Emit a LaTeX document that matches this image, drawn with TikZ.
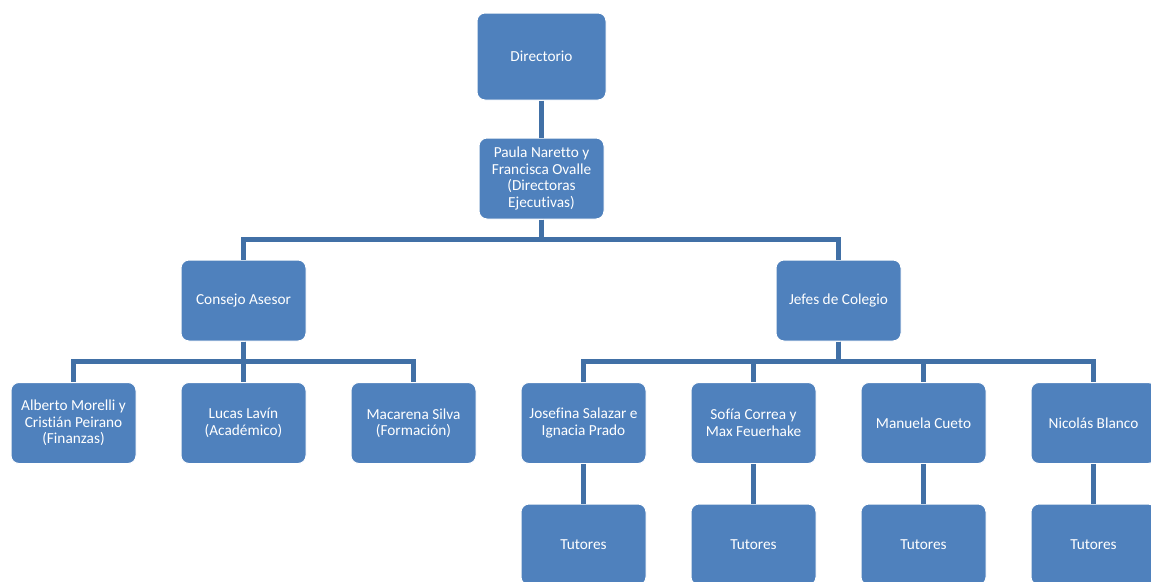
\documentclass[tikz,border=0pt]{standalone}
\usepackage{fontspec}
\setmainfont{Carlito}[Ligatures=CommonOff]
\definecolor{azulcaja}{RGB}{79,129,189}
\definecolor{azullinea}{RGB}{65,112,166}

\begin{document}
\begin{tikzpicture}[x=1pt,y=-1pt,
  caja/.style={rectangle, rounded corners=8pt, fill=azulcaja, draw=white, line width=1pt,
    text=white, minimum width=125pt, minimum height=81pt, align=center, inner sep=2pt,
    font=\fontsize{15.3}{16.5}\selectfont},
  rama/.style={draw=azullinea, line width=5pt}]
\useasboundingbox (0,0) rectangle (1151,581);

\node[caja, minimum width=129pt, minimum height=87pt] (dir) at (541.5,56.5) {Directorio};
\node[caja] (ejec) at (541.5,178.5) {Paula Naretto y\\Francisca Ovalle\\ (Directoras\\Ejecutivas)};

\node[caja] (consejo) at (243.5,300.5) {Consejo Asesor};
\node[caja] (jefes) at (838.5,300.5) {Jefes de Colegio};

\node[caja] (alberto) at (73.5,423) {Alberto Morelli y\\Cristián Peirano\\(Finanzas)};
\node[caja] (lucas) at (243.5,423) {Lucas Lavín\\(Académico)};
\node[caja] (macarena) at (413.5,423) {Macarena Silva\\(Formación)};

\node[caja] (josefina) at (583.5,423) {Josefina Salazar e\\Ignacia Prado};
\node[caja] (sofia) at (753.5,423) {Sofía Correa y\\Max Feuerhake};
\node[caja] (manuela) at (923.5,423) {Manuela Cueto};
\node[caja] (nicolas) at (1093.5,423) {Nicolás Blanco};

\node[caja] (tut1) at (583.5,544.5) {Tutores};
\node[caja] (tut2) at (753.5,544.5) {Tutores};
\node[caja] (tut3) at (923.5,544.5) {Tutores};
\node[caja] (tut4) at (1093.5,544.5) {Tutores};

\draw[rama] (dir) -- (ejec);
\foreach \hijo in {consejo,jefes}
  \draw[rama] (ejec.south) -- ++(0,20) -| (\hijo.north);
\foreach \hijo in {alberto,lucas,macarena}
  \draw[rama] (consejo.south) -- ++(0,20) -| (\hijo.north);
\foreach \hijo in {josefina,sofia,manuela,nicolas}
  \draw[rama] (jefes.south) -- ++(0,20) -| (\hijo.north);
\draw[rama] (josefina) -- (tut1);
\draw[rama] (sofia) -- (tut2);
\draw[rama] (manuela) -- (tut3);
\draw[rama] (nicolas) -- (tut4);

\end{tikzpicture}
\end{document}
